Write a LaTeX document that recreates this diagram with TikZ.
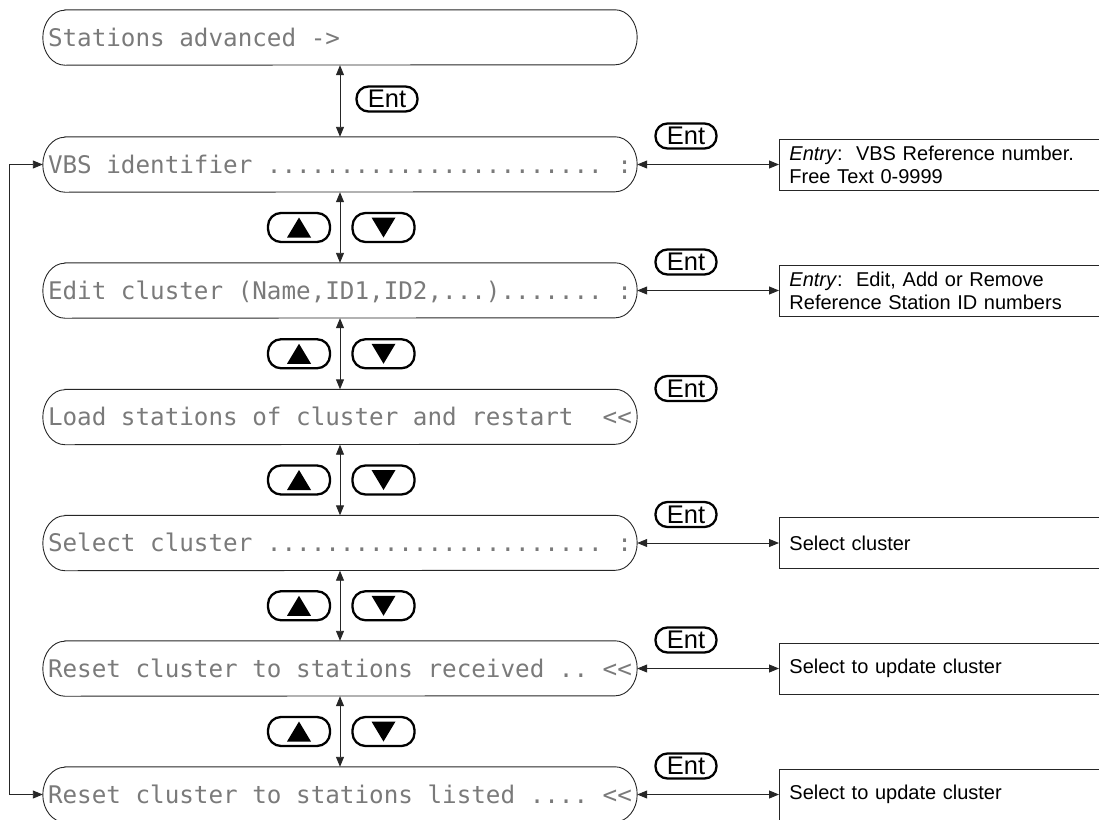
\documentclass[tikz,border=0pt]{standalone}
\usepackage{fontspec}
\setmainfont{Liberation Sans}
\setmonofont{DejaVu Sans Mono}
\usetikzlibrary{arrows.meta}
\frenchspacing
\definecolor{lcdgray}{gray}{0.48}
\newcommand\lcdtext{\ttfamily\fontsize{24.25pt}{26pt}\selectfont}
\newcommand\keytext{\fontsize{25.5pt}{27pt}\selectfont}
\newcommand\infotext{\fontsize{20pt}{23pt}\selectfont}
\newcommand\lcdline[1]{\makebox[584pt][l]{#1}}

\begin{document}
\begin{tikzpicture}[x=1pt,y=-1pt,
  pill/.style={rectangle, minimum width=594pt, minimum height=55pt,
    inner xsep=5pt, inner ysep=0pt,
    text height=17.5pt, text depth=0.5pt, font=\lcdtext, text=lcdgray},
  pilledge/.style={draw=black!85, line width=0.9pt},
  conn/.style={draw=black!85, line width=0.9pt,
    {Triangle[length=10pt,width=8pt]}-{Triangle[length=10pt,width=8pt]}},
  keybox/.style={draw, line width=2.3pt, rounded corners=12pt,
    minimum width=61pt, minimum height=25pt, inner sep=0pt, font=\keytext},
  arrowkey/.style={draw, line width=2.3pt, rounded corners=13pt,
    minimum width=62pt, minimum height=29pt, inner sep=0pt},
  info/.style={draw=black!85, line width=0.9pt, anchor=west,
    minimum height=51pt, text width=380pt, inner xsep=10pt, align=left,
    font=\infotext}
]
\useasboundingbox (0,0) rectangle (1099,819);
\clip (0,0) rectangle (1099,819);

% menu entries
\node[pill] (p1) at (340,37.5)  {\lcdline{Stations advanced ->}};
\node[pill] (p2) at (340,164.5) {\lcdline{VBS identifier ....................... :}};
\node[pill] (p3) at (340,290.5) {\lcdline{Edit cluster (Name,ID1,ID2,...)....... :}};
\node[pill] (p4) at (340,417)   {\lcdline{Load stations of cluster and restart\ \ <<}};
\node[pill] (p5) at (340,543)   {\lcdline{Select cluster ....................... :}};
\node[pill] (p6) at (340,668.5) {\lcdline{Reset cluster to stations received .. <<}};
\node[pill] (p7) at (340,794.5) {\lcdline{Reset cluster to stations listed .... <<}};

% rounded outlines of the entries
\foreach \n in {p1,p2,p3,p4,p5,p6,p7}
  \draw[pilledge] ([xshift=22pt]\n.north west) -- ([xshift=-22pt]\n.north east)
    arc[start angle=90,end angle=-90,x radius=22pt,y radius=27.5pt]
    -- ([xshift=22pt]\n.south west)
    arc[start angle=270,end angle=90,x radius=22pt,y radius=27.5pt] -- cycle;

% navigation between entries
\foreach \a/\b in {p1/p2,p2/p3,p3/p4,p4/p5,p5/p6,p6/p7}
  \draw[conn] (\a.south) -- (\b.north);

\node[keybox] (e1) at (387,99) {Ent};

\foreach \k/\y in {2/227.5,3/353.75,4/480,5/605.75,6/731.5}{
  \node[arrowkey] (u\k) at (299,\y) {};
  \node[arrowkey] (d\k) at (383.5,\y) {};
  \fill ([shift={(-12,10)}]u\k.center) -- ([shift={(12,10)}]u\k.center)
        -- ([shift={(0,-10)}]u\k.center) -- cycle;
  \fill ([shift={(-12,-10)}]d\k.center) -- ([shift={(12,-10)}]d\k.center)
        -- ([shift={(0,10)}]d\k.center) -- cycle;
}

% Ent keys beside the entries
\foreach \k/\y in {2/136,3/262,4/388.5,5/514.5,6/640,7/766}
  \node[keybox] (e\k) at (686,\y) {Ent};

% descriptions
\node[info] (b2) at (779,164.5) {\textit{Entry}:\ \ VBS Reference number.\\Free Text 0-9999};
\node[info] (b3) at (779,290.5) {\textit{Entry}:\ \ Edit, Add or Remove\\Reference Station ID numbers};
\node[info] (b5) at (779,543)   {Select cluster};
\node[info] (b6) at (779,668.5) {Select to update cluster};
\node[info] (b7) at (779,794.5) {Select to update cluster};

\foreach \n in {2,3,5,6,7}
  \draw[conn] (p\n.east) -- (b\n.west);

% wrap-around from the last entry back to the first editable one
\coordinate (lx) at (9,0);
\draw[conn] (p7.west) -- (p7.west -| lx) |- (p2.west);
\end{tikzpicture}
\end{document}
